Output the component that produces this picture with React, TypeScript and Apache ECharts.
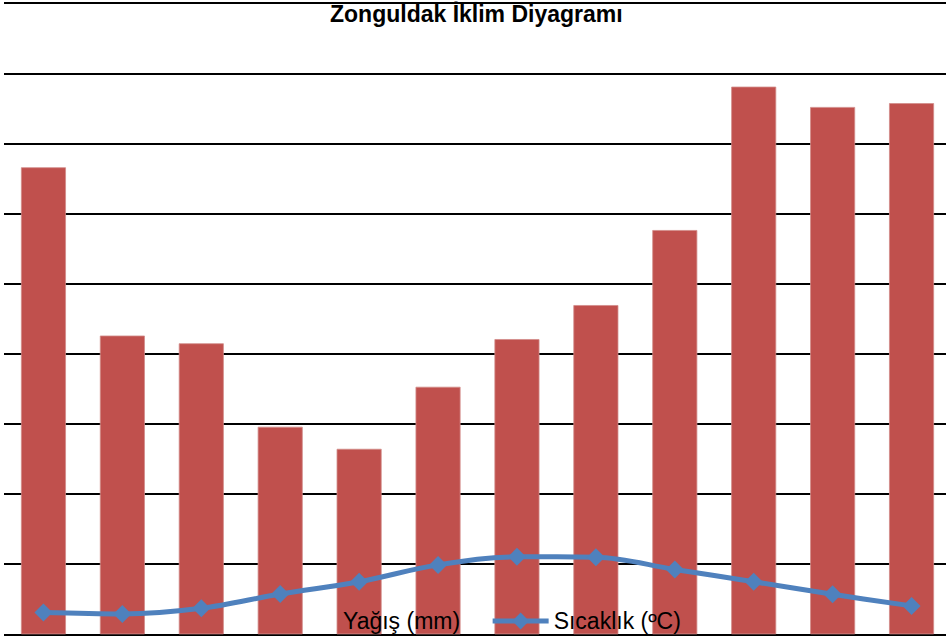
import React, { useEffect, useRef } from "react";
import * as echarts from "echarts";

const months = ["Ocak", "Şubat", "Mart", "Nisan", "Mayıs", "Haziran", "Temmuz", "Ağustos", "Eylül", "Ekim", "Kasım", "Aralık"];
const yagis = [133.2, 85.2, 83.0, 59.2, 52.9, 70.6, 84.2, 93.9, 115.3, 156.2, 150.4, 151.5];
const sicaklik = [6.2, 5.8, 7.4, 11.5, 15.0, 19.8, 22.1, 22.0, 18.5, 15.0, 11.4, 8.1];
const titleText = "Zonguldak İklim Diyagramı";
const yagisName = "Yağış (mm)";
const sicaklikName = "Sıcaklık (ºC)";

export default function App() {
  const ref = useRef<HTMLDivElement>(null);
  useEffect(() => {
    if (!ref.current) return;
    const chart = echarts.init(ref.current, undefined, { renderer: "svg" });
    chart.setOption({
      animation: false,
      backgroundColor: "#ffffff",
      textStyle: { fontFamily: "Liberation Sans" },
      title: {
        text: titleText,
        left: 330,
        top: 1,
        padding: 0,
        textStyle: { fontFamily: "Liberation Sans", fontWeight: "bold", fontSize: 23, color: "#000", lineHeight: 26 },
      },
      grid: { left: 4, right: 9, top: 3.2, bottom: 643 - 634.3, containLabel: false },
      legend: {
        left: 281,
        top: 609,
        padding: 0,
        itemWidth: 56,
        itemHeight: 21,
        itemGap: 30,
        textStyle: { fontFamily: "Liberation Sans", fontSize: 23, color: "#000", lineHeight: 24 },
        data: [
          { name: yagisName, itemStyle: { opacity: 0 } },
          { name: sicaklikName, lineStyle: { width: 5, color: "#4F81BD" }, itemStyle: { color: "#4F81BD" } },
        ],
      },
      xAxis: {
        type: "category",
        data: months,
        axisLine: { show: false },
        axisTick: { show: false },
        axisLabel: { show: false },
      },
      yAxis: {
        type: "value",
        min: 0,
        max: 180,
        interval: 20,
        axisLine: { show: false },
        axisTick: { show: false },
        axisLabel: { show: false },
        splitLine: { show: true, lineStyle: { color: "#000", width: 2 } },
      },
      series: [
        {
          name: yagisName,
          type: "bar",
          data: yagis,
          barWidth: 45,
          itemStyle: { color: "#C0504D", borderColor: "#D28B89", borderWidth: 0.8 },
        },
        {
          name: sicaklikName,
          type: "line",
          data: sicaklik,
          smooth: 0.35,
          symbol: "diamond",
          symbolSize: 18,
          lineStyle: { color: "#4F81BD", width: 5 },
          itemStyle: { color: "#4F81BD" },
        },
      ],
    });
    return () => chart.dispose();
  }, []);
  return (
    <div style={{ position: "fixed", left: 0, top: 0, width: 946, height: 643, overflow: "hidden", background: "#fff" }}>
      <div ref={ref} style={{ width: 960, height: 643 }} />
    </div>
  );
}
